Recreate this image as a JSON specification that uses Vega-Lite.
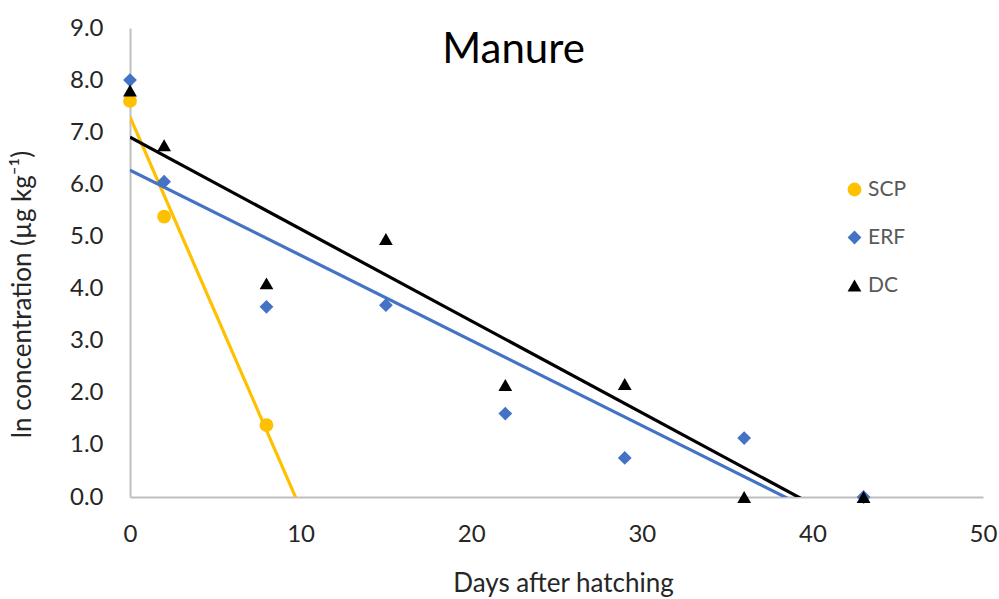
{
  "$schema": "https://vega.github.io/schema/vega-lite/v6.json",
  "width": 853,
  "height": 469,
  "autosize": {"type": "none"},
  "padding": {"left": 130, "top": 28, "right": 16, "bottom": 102},
  "background": "white",
  "title": {
    "text": "Manure",
    "font": "Lato",
    "fontSize": 42,
    "fontWeight": "normal",
    "color": "#000000",
    "anchor": "middle",
    "frame": "group",
    "baseline": "alphabetic",
    "offset": -38,
    "dy": 51,
    "dx": -43
  },
  "data": {
    "values": [
      {"series": "SCP", "x": 0, "y": 7.6},
      {"series": "SCP", "x": 2, "y": 5.38},
      {"series": "SCP", "x": 8, "y": 1.38},
      {"series": "ERF", "x": 0, "y": 8.0},
      {"series": "ERF", "x": 2, "y": 6.05},
      {"series": "ERF", "x": 8, "y": 3.65},
      {"series": "ERF", "x": 15, "y": 3.68},
      {"series": "ERF", "x": 22, "y": 1.6},
      {"series": "ERF", "x": 29, "y": 0.75},
      {"series": "ERF", "x": 36, "y": 1.13},
      {"series": "ERF", "x": 43, "y": 0.0},
      {"series": "DC", "x": 0, "y": 7.8},
      {"series": "DC", "x": 2, "y": 6.75},
      {"series": "DC", "x": 8, "y": 4.1},
      {"series": "DC", "x": 15, "y": 4.95},
      {"series": "DC", "x": 22, "y": 2.15},
      {"series": "DC", "x": 29, "y": 2.17},
      {"series": "DC", "x": 36, "y": 0.0},
      {"series": "DC", "x": 43, "y": 0.0}
    ]
  },
  "encoding": {
    "x": {
      "field": "x",
      "type": "quantitative",
      "scale": {"domain": [0, 50], "nice": false, "zero": false},
      "axis": {
        "title": "Days after hatching",
        "values": [0, 10, 20, 30, 40, 50],
        "grid": false,
        "ticks": false,
        "labelFlush": false,
        "labelOverlap": false,
        "domainColor": "#bfbfbf",
        "domainWidth": 2,
        "labelFont": "Lato",
        "labelFontSize": 24,
        "labelColor": "#262626",
        "labelPadding": 25,
        "titleFont": "Lato",
        "titleFontSize": 26,
        "titleFontWeight": "normal",
        "titleColor": "#262626",
        "titlePadding": 24,
        "titleX": 433
      }
    },
    "y": {
      "field": "y",
      "type": "quantitative",
      "scale": {"domain": [0, 9], "nice": false, "zero": false},
      "axis": {
        "title": "ln concentration (µg kg⁻¹)",
        "values": [0, 1, 2, 3, 4, 5, 6, 7, 8, 9],
        "format": ".1f",
        "grid": false,
        "ticks": false,
        "labelFlush": false,
        "domainColor": "#bfbfbf",
        "domainWidth": 2,
        "labelFont": "Lato",
        "labelFontSize": 24,
        "labelColor": "#262626",
        "labelPadding": 27,
        "titleFont": "Lato",
        "titleFontSize": 26,
        "titleFontWeight": "normal",
        "titleColor": "#262626",
        "titleX": -108,
        "titleY": 266,
        "titleAngle": 270,
        "titleAlign": "center",
        "titleBaseline": "middle"
      }
    }
  },
  "layer": [
    {
      "transform": [
        {"regression": "y", "on": "x", "groupby": ["series"], "extent": [0, 45]}
      ],
      "mark": {"type": "line", "strokeWidth": 3.2, "clip": true},
      "encoding": {
        "stroke": {
          "field": "series",
          "type": "nominal",
          "scale": {"domain": ["SCP", "ERF", "DC"], "range": ["#FFC000", "#4472C4", "#000000"]},
          "legend": {
            "title": null,
            "orient": "none",
            "legendX": 714,
            "legendY": 151,
            "labelFont": "Lato",
            "labelFontSize": 21,
            "labelColor": "#595959",
            "symbolSize": 190,
            "symbolStrokeWidth": 0,
            "rowPadding": 26,
            "labelOffset": 3
          }
        }
      }
    },
    {
      "mark": {"type": "point", "filled": true, "opacity": 1, "size": 190},
      "encoding": {
        "color": {
          "field": "series",
          "type": "nominal",
          "scale": {"domain": ["SCP", "ERF", "DC"], "range": ["#FFC000", "#4472C4", "#000000"]},
          "legend": {
            "title": null,
            "orient": "none",
            "legendX": 714,
            "legendY": 151,
            "labelFont": "Lato",
            "labelFontSize": 21,
            "labelColor": "#595959",
            "symbolSize": 190,
            "symbolStrokeWidth": 0,
            "rowPadding": 26,
            "labelOffset": 3
          }
        },
        "shape": {
          "field": "series",
          "type": "nominal",
          "scale": {"domain": ["SCP", "ERF", "DC"], "range": ["circle", "diamond", "triangle-up"]},
          "legend": {
            "title": null,
            "orient": "none",
            "legendX": 714,
            "legendY": 151,
            "labelFont": "Lato",
            "labelFontSize": 21,
            "labelColor": "#595959",
            "symbolSize": 190,
            "symbolStrokeWidth": 0,
            "rowPadding": 26,
            "labelOffset": 3
          }
        }
      }
    }
  ],
  "config": {"view": {"stroke": null}}
}
